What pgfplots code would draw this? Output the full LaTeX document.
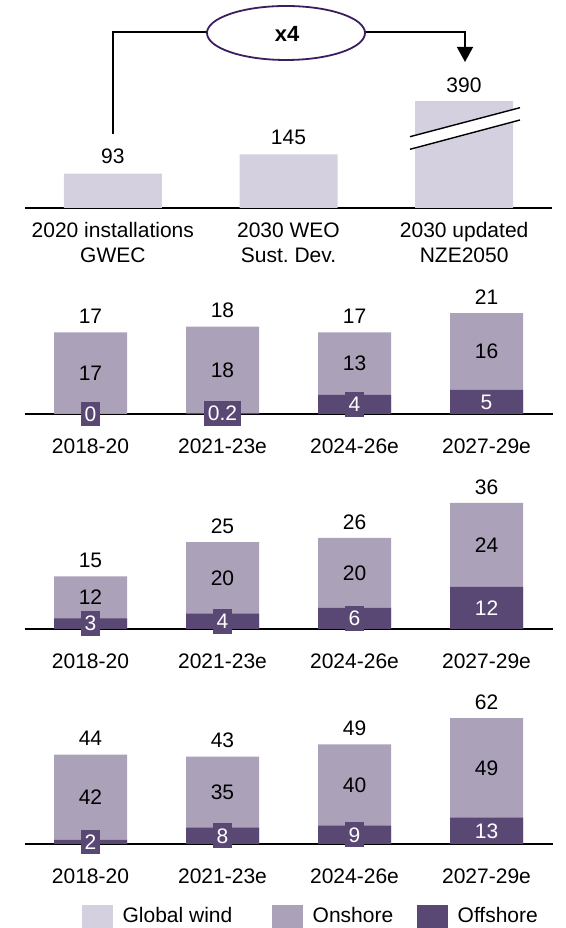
\documentclass[border=0pt]{standalone}
\usepackage{fontspec}
\setmainfont{Liberation Sans}
\usepackage{pgfplots}
\usepackage{pgfplotstable}
\pgfplotsset{compat=1.18}
\usetikzlibrary{arrows.meta}
\definecolor{globalc}{RGB}{213,208,223}
\definecolor{onc}{RGB}{171,162,186}
\definecolor{offc}{RGB}{90,72,116}
\definecolor{ellc}{RGB}{60,30,95}
\newcommand\fs{\fontsize{21}{25}\selectfont}
\frenchspacing

% columns: x, offshore, onshore, total (label)
\pgfplotstableread{
x off on tot
0 0 17 17
1 0.2 18 18
2 4 13 17
3 5 16 21
}\tabB
\pgfplotstableread{
x off on tot
0 3 12 15
1 4.4 20.4 25
2 6 20 26
3 12 24 36
}\tabC
\pgfplotstableread{
x off on tot
0 2 42 44
1 8 35 43
2 9 40 49
3 13 49 62
}\tabD

\pgfplotsset{
  /pgf/number format/assume math mode=true,
  panel/.style={
    scale only axis, width=528pt,
    xmin=-0.5, xmax=3.5, ymin=0,
    axis x line=bottom, axis y line=none,
    axis line style={line width=1.3pt, -},
    xtick={0,1,2,3}, xticklabels={2018-20,2021-23e,2024-26e,2027-29e},
    major tick length=0pt, xtick style={draw=none},
    xticklabel style={font=\fs, inner sep=0pt, anchor=north, yshift=-25pt},
    ybar, bar width=73pt,
    clip=false, anchor=south west,
  },
  totplot/.style={fill=onc, draw=none, forget plot, bar shift=0pt,
     nodes near coords, point meta=explicit,
     nodes near coords style={font=\fs, anchor=south, inner sep=0pt, yshift=8.5pt, text=black}},
  offbar/.style={fill=offc, draw=none, forget plot, bar shift=0pt},
  onlbl/.style={draw=none, fill=none, forget plot, bar shift=0pt,
     nodes near coords, point meta=explicit,
     nodes near coords style={font=\fs, anchor=center, inner sep=0pt, text=black}},
  offlbl/.style={draw=none, fill=none, forget plot, bar shift=0pt,
     nodes near coords, point meta=explicit,
     nodes near coords style={font=\fs, anchor=center, text=white, fill=offc,
       inner xsep=3.5pt, inner ysep=5pt}},
}
\begin{document}
\frenchspacing
\begin{tikzpicture}
\useasboundingbox (0pt,0pt) rectangle (565pt,928pt);

% ---------- top panel ----------
\begin{axis}[scale only axis, width=527pt, height=106pt, at={(25pt,720pt)}, anchor=south west,
  xmin=-0.5, xmax=2.5, ymin=0, ymax=286.5,
  axis x line=bottom, axis y line=none, axis line style={line width=1.3pt,-},
  xtick={0,1,2},
  xticklabels={{2020 installations\\GWEC},{2030 WEO\\Sust.\ Dev.},{2030 updated\\NZE2050}},
  major tick length=0pt, xtick style={draw=none},
  xticklabel style={font=\fs, align=center, inner sep=0pt, anchor=north, yshift=-14.5pt},
  ybar, bar width=98pt, clip mode=individual]
\addplot[fill=globalc, draw=none] coordinates {(0,93) (1,145) (2,390)};
\node[font=\fs, anchor=south, inner sep=0pt, yshift=9.5pt] at (axis cs:0,93) {93};
\node[font=\fs, anchor=south, inner sep=0pt, yshift=9.5pt] at (axis cs:1,145) {145};
\end{axis}
\node[font=\fs, inner sep=0pt] at (464pt,843pt) {390};
% break marks
\fill[white] (410pt,778.7pt) -- (520pt,808pt) -- (520pt,820.3pt) -- (410pt,791.3pt) -- cycle;
\draw[line width=1.4pt] (410pt,791.3pt) -- (520pt,820.3pt);
\draw[line width=1.4pt] (410pt,778.7pt) -- (520pt,808pt);
% bracket and ellipse
\draw[line width=1.4pt] (113pt,794pt) -- (113pt,896pt) -- (207pt,896pt);
\draw[line width=1.4pt, -{Triangle[width=16pt,length=15pt]}] (365pt,896pt) -- (465pt,896pt) -- (465pt,866pt);
\draw[ellc, line width=1.8pt] (286pt,895pt) ellipse [x radius=79pt, y radius=27pt];
\node[font=\fontsize{22}{26}\selectfont\bfseries, inner sep=0pt] at (287pt,894pt) {x4};

% ---------- panel 2 ----------
\begin{axis}[panel, height=100.8pt, ymax=21, at={(24.5pt,514pt)}]
\addplot[totplot] table[x=x, y expr=\thisrow{off}+\thisrow{on}, meta=tot] {\tabB};
\addplot[offbar] table[x=x, y=off] {\tabB};
\addplot[onlbl] table[x=x, y expr=\thisrow{off}+\thisrow{on}/2, meta=on] {\tabB};
\addplot[offlbl] table[x=x, y expr=\thisrow{off}/2, meta=off] {\tabB};
\end{axis}

% ---------- panel 3 ----------
\begin{axis}[panel, height=126pt, ymax=36, at={(24.5pt,299pt)},
  /pgf/number format/fixed, /pgf/number format/precision=0]
\addplot[totplot] table[x=x, y expr=\thisrow{off}+\thisrow{on}, meta=tot] {\tabC};
\addplot[offbar] table[x=x, y=off] {\tabC};
\addplot[onlbl] table[x=x, y expr=\thisrow{off}+\thisrow{on}/2, meta=on] {\tabC};
\addplot[offlbl] table[x=x, y expr=\thisrow{off}/2, meta=off] {\tabC};
\end{axis}

% ---------- panel 4 ----------
\begin{axis}[panel, height=126pt, ymax=62, at={(24.5pt,84pt)},
  legend style={draw=none, fill=none, at={(0.1089,-0.571)}, anchor=west,
    legend columns=3, font=\fs, inner sep=0pt,
    /tikz/column 2/.style={column sep=38pt}, /tikz/column 4/.style={column sep=22pt}},
  legend cell align=left]
\addlegendimage{legend image code/.code={\fill[globalc] (0pt,-11pt) rectangle (30pt,11pt); \path (38pt,0pt);}}
\addlegendentry{Global wind}
\addlegendimage{legend image code/.code={\fill[onc] (0pt,-11pt) rectangle (30pt,11pt); \path (38pt,0pt);}}
\addlegendentry{Onshore}
\addlegendimage{legend image code/.code={\fill[offc] (0pt,-11pt) rectangle (30pt,11pt); \path (38pt,0pt);}}
\addlegendentry{Offshore}
\addplot[totplot] table[x=x, y expr=\thisrow{off}+\thisrow{on}, meta=tot] {\tabD};
\addplot[offbar] table[x=x, y=off] {\tabD};
\addplot[onlbl] table[x=x, y expr=\thisrow{off}+\thisrow{on}/2, meta=on] {\tabD};
\addplot[offlbl] table[x=x, y expr=\thisrow{off}/2, meta=off] {\tabD};
\end{axis}
\end{tikzpicture}
\end{document}
